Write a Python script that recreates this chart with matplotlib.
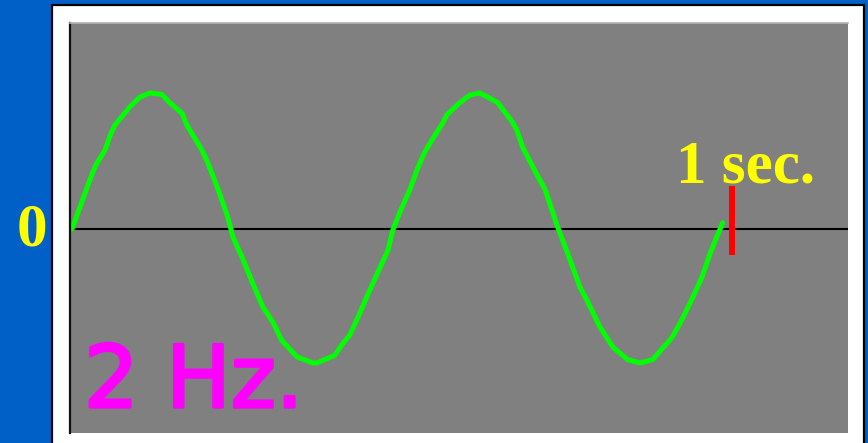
import matplotlib
matplotlib.use("Agg")
import matplotlib.pyplot as plt
import matplotlib.patheffects as pe
from matplotlib.patches import Rectangle

# traced wave: time (s) and amplitude (peak = 1)
wave_t = [0.0, 0.027, 0.036, 0.050, 0.058, 0.065, 0.088, 0.103, 0.118, 0.136,
          0.148, 0.167, 0.174, 0.197, 0.206, 0.220, 0.236, 0.244, 0.258, 0.274,
          0.289, 0.305, 0.318, 0.341, 0.365, 0.371, 0.398, 0.409, 0.421, 0.436,
          0.448, 0.467, 0.479, 0.486, 0.497, 0.512, 0.524, 0.535, 0.550, 0.562,
          0.568, 0.588, 0.603, 0.618, 0.630, 0.645, 0.667, 0.674, 0.683, 0.709,
          0.717, 0.736, 0.755, 0.770, 0.780, 0.800, 0.820, 0.842, 0.861, 0.880,
          0.909, 0.924, 0.941, 0.955, 0.967, 0.977, 0.986]
wave_a = [0.0, 0.36, 0.47, 0.58, 0.69, 0.765, 0.90, 0.97, 1.0, 0.99,
          0.93, 0.85, 0.765, 0.58, 0.485, 0.31, 0.09, -0.06, -0.21, -0.40,
          -0.57, -0.69, -0.82, -0.94, -0.985, -0.985, -0.93, -0.85, -0.78, -0.62,
          -0.485, -0.28, -0.155, -0.01, 0.125, 0.29, 0.45, 0.57, 0.69, 0.78,
          0.84, 0.93, 0.985, 1.0, 0.97, 0.93, 0.79, 0.73, 0.60, 0.36,
          0.29, 0.015, -0.23, -0.43, -0.52, -0.72, -0.87, -0.96, -0.985, -0.96,
          -0.80, -0.67, -0.50, -0.35, -0.18, -0.06, 0.045]

tick_time = 1.0
tick_span = [-0.19, 0.32]
freq_label = "2 Hz."
time_label = "1 sec."
zero_label = "0"

W, H = 868, 443
fig = plt.figure(figsize=(W / 100, H / 100), dpi=100, facecolor="#0060c8")

# white frame behind the plot
fig.patches.append(Rectangle((52 / W, -0.05), (864 - 52) / W, (H - 5) / H + 0.05,
                             transform=fig.transFigure, facecolor="white",
                             edgecolor="black", linewidth=1.6, zorder=-5))

ax = fig.add_axes([70 / W, (H - 433) / H, (848 - 70) / W, (433 - 23) / H])
ax.set_zorder(2)
ax.set_facecolor("#808080")
ax.set_xlim(-0.003, 1.176)
ax.set_ylim(-1.5, 1.515)
ax.set_xticks([])
ax.set_yticks([])
for side in ["right", "bottom"]:
    ax.spines[side].set_visible(False)
ax.spines["left"].set_color("#111111")
ax.spines["left"].set_linewidth(1.6)
ax.spines["top"].set_color("#b4b4b4")
ax.spines["top"].set_linewidth(1.2)

ax.axhline(0, color="black", linewidth=1.5, zorder=1)
ax.plot(wave_t, wave_a, color="#00ff00", linewidth=3.6,
        solid_capstyle="round", solid_joinstyle="round", zorder=2)
ax.vlines(tick_time, tick_span[0], tick_span[1], color="#ff0000", linewidth=4.3, zorder=3)

ax.text(1.02, 0.345, time_label, ha="center", va="baseline", color="#ffff00",
        fontsize=44, fontweight="bold", family="Liberation Serif", zorder=4)
ax.text(0.018, -1.31, freq_label, ha="left", va="baseline", color="#ff00ff",
        fontsize=62, family="DejaVu Sans", zorder=4,
        path_effects=[pe.withStroke(linewidth=2.2, foreground="#ff00ff",
                                    capstyle="round", joinstyle="round")])
fig.text(32 / W, (H - 246) / H, zero_label, ha="center", va="baseline",
         color="#ffff00", fontsize=44, fontweight="bold", family="Liberation Serif")

fig.savefig("out.png", dpi=100, facecolor=fig.get_facecolor())
